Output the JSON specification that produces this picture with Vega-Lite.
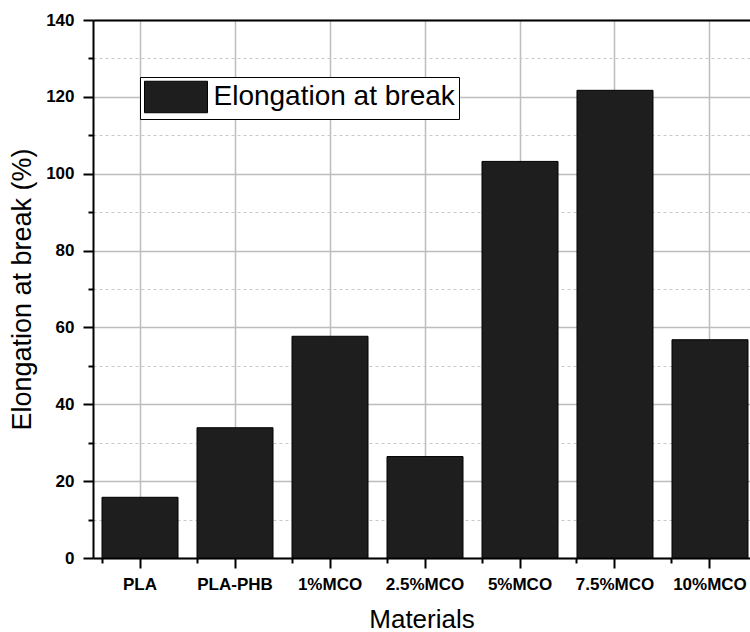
{
  "$schema": "https://vega.github.io/schema/vega-lite/v6.json",
  "width": 657,
  "height": 538,
  "autosize": {"type": "none"},
  "padding": {"left": 93, "top": 20, "right": 0, "bottom": 74},
  "background": "white",
  "config": {
    "view": {"stroke": null},
    "font": "Liberation Sans",
    "axis": {
      "labelFont": "Liberation Sans",
      "labelFontWeight": "bold",
      "labelFontSize": 17,
      "labelColor": "black",
      "titleFont": "Liberation Sans",
      "titleFontWeight": "normal",
      "titleFontSize": 25,
      "titleColor": "black",
      "domainColor": "black",
      "domainWidth": 2,
      "tickColor": "black",
      "tickWidth": 2
    }
  },
  "data": {
    "values": [
      {"material": "PLA", "value": 15.8, "series": "Elongation at break"},
      {"material": "PLA-PHB", "value": 33.9, "series": "Elongation at break"},
      {"material": "1%MCO", "value": 57.7, "series": "Elongation at break"},
      {"material": "2.5%MCO", "value": 26.4, "series": "Elongation at break"},
      {"material": "5%MCO", "value": 103.2, "series": "Elongation at break"},
      {"material": "7.5%MCO", "value": 121.7, "series": "Elongation at break"},
      {"material": "10%MCO", "value": 56.8, "series": "Elongation at break"}
    ]
  },
  "resolve": {"axis": {"x": "independent", "y": "independent"}},
  "layer": [
    {
      "mark": {"type": "bar", "opacity": 0},
      "encoding": {
        "x": {
          "field": "material", "type": "nominal", "sort": null,
          "scale": {"paddingInner": 0.2, "paddingOuter": 0.058, "align": 0.818, "round": false},
          "axis": {
            "orient": "bottom", "bandPosition": 0, "domain": false, "labels": false,
            "ticks": true, "tickSize": 5, "grid": false, "title": null
          }
        },
        "y": {
          "field": "value", "type": "quantitative",
          "scale": {"domain": [0, 140], "nice": false},
          "axis": {
            "orient": "left", "values": [10, 30, 50, 70, 90, 110, 130],
            "domain": false, "labels": false, "ticks": true, "tickSize": 5,
            "grid": true, "gridColor": "#c8c8c8", "gridWidth": 1, "gridDash": [3, 3],
            "title": null
          }
        }
      }
    },
    {
      "mark": {"type": "bar", "stroke": "black", "strokeWidth": 1},
      "encoding": {
        "x": {
          "field": "material", "type": "nominal", "sort": null,
          "axis": {
            "orient": "bottom", "bandPosition": 0.5, "labelAngle": 0,
            "tickSize": 10, "labelPadding": 8,
            "grid": true, "gridColor": "#bdbdbd", "gridWidth": 1.5,
            "title": "Materials", "titlePadding": 14, "titleFontSize": 26
          }
        },
        "y": {
          "field": "value", "type": "quantitative",
          "axis": {
            "orient": "left", "values": [0, 20, 40, 60, 80, 100, 120, 140],
            "tickSize": 10, "labelPadding": 9,
            "grid": true, "gridColor": "#bdbdbd", "gridWidth": 1.5,
            "title": "Elongation at break (%)", "titlePadding": 9, "titleFontSize": 27
          }
        },
        "fill": {
          "field": "series", "type": "nominal",
          "scale": {"range": ["#1e1e1e"]},
          "legend": {
            "orient": "none", "legendX": 47, "legendY": 57,
            "title": null,
            "fillColor": "white", "strokeColor": "black",
            "padding": 3.5,
            "symbolType": "M-2,-1H2V1H-2Z",
            "symbolSize": 992,
            "symbolOffset": 16,
            "symbolStrokeColor": "black", "symbolStrokeWidth": 1,
            "labelFont": "Liberation Sans", "labelFontSize": 28,
            "labelColor": "black", "labelOffset": 21, "labelLimit": 500
          }
        }
      }
    },
    {
      "mark": {"type": "bar", "opacity": 0},
      "encoding": {
        "x": {
          "field": "material", "type": "nominal", "sort": null,
          "axis": {
            "orient": "top", "domain": true, "labels": false, "ticks": false,
            "grid": false, "title": null
          }
        },
        "y": {"field": "value", "type": "quantitative", "axis": null}
      }
    }
  ]
}
